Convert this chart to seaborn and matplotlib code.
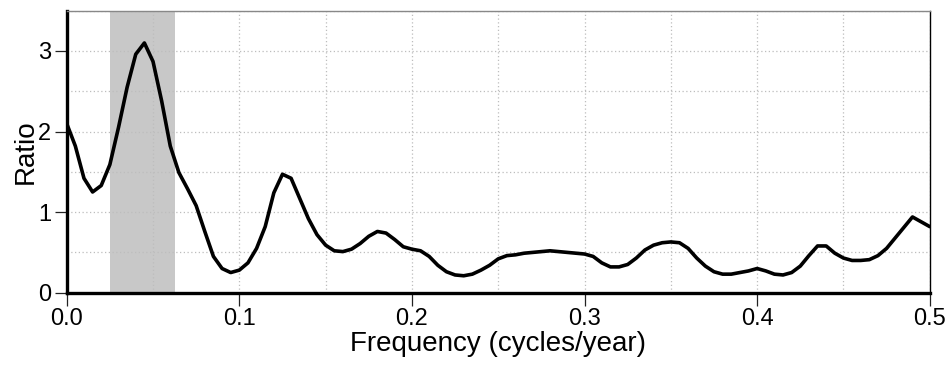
import numpy as np
import pandas as pd
import matplotlib
matplotlib.use("Agg")
import matplotlib.pyplot as plt
import seaborn as sns

# Frequency grid (cycles/year) and spectral ratio values
frequency = np.round(np.arange(101) * 0.005, 3)
ratio = [2.10, 1.82, 1.42, 1.25, 1.33, 1.59, 2.05, 2.55, 2.96, 3.10,
         2.87, 2.38, 1.82, 1.49, 1.29, 1.08, 0.76, 0.45, 0.30, 0.25,
         0.28, 0.37, 0.55, 0.82, 1.24, 1.47, 1.42, 1.17, 0.92, 0.72,
         0.59, 0.52, 0.51, 0.54, 0.61, 0.70, 0.76, 0.74, 0.66, 0.57,
         0.54, 0.52, 0.45, 0.34, 0.26, 0.22, 0.21, 0.23, 0.28, 0.34,
         0.42, 0.46, 0.47, 0.49, 0.50, 0.51, 0.52, 0.51, 0.50, 0.49,
         0.48, 0.45, 0.37, 0.32, 0.32, 0.35, 0.43, 0.53, 0.59, 0.62,
         0.63, 0.62, 0.55, 0.43, 0.33, 0.26, 0.23, 0.23, 0.25, 0.27,
         0.30, 0.27, 0.23, 0.22, 0.25, 0.33, 0.46, 0.58, 0.58, 0.49,
         0.43, 0.40, 0.40, 0.41, 0.46, 0.55, 0.68, 0.81, 0.94, 0.88,
         0.82]
band = [0.025, 0.063]
x_ticks = [0.0, 0.1, 0.2, 0.3, 0.4, 0.5]
x_tick_labels = ["0.0", "0.1", "0.2", "0.3", "0.4", "0.5"]
y_ticks = [0, 1, 2, 3]
y_tick_labels = ["0", "1", "2", "3"]

df = pd.DataFrame({"Frequency": frequency, "Ratio": ratio})

sns.set_theme(style="white")
plt.rcParams["font.family"] = ["Liberation Sans", "DejaVu Sans"]
plt.rcParams["text.color"] = "black"
plt.rcParams["axes.labelcolor"] = "black"
plt.rcParams["xtick.color"] = "black"
plt.rcParams["ytick.color"] = "black"

fig = plt.figure(figsize=(9.53, 3.67), dpi=100)
ax = fig.add_axes([0.070, 0.2025, 0.9056, 0.7683])

ax.axvspan(band[0], band[1], color="#c8c8c8", lw=0, zorder=0)

sns.lineplot(data=df, x="Frequency", y="Ratio", ax=ax, color="black",
             lw=2.6, zorder=3)

ax.set_xlim(0, 0.5)
ax.set_ylim(0, 3.5)
ax.set_xticks(x_ticks)
ax.set_xticklabels(x_tick_labels)
ax.set_yticks(y_ticks)
ax.set_yticklabels(y_tick_labels)
ax.set_xticks(np.arange(0.05, 0.5, 0.1), minor=True)
ax.set_yticks([0.5, 1.5, 2.5, 3.5], minor=True)

ax.grid(True, which="both", color="#bdbdbd", linestyle=(0, (1, 2)), lw=0.9, zorder=1)
ax.set_axisbelow(True)

ax.tick_params(axis="both", which="major", direction="out", length=9,
               width=0.9, color="#222222", labelcolor="black", labelsize=17,
               pad=2, bottom=True, left=True)
ax.tick_params(axis="both", which="minor", length=0)

for side in ["left", "bottom"]:
    ax.spines[side].set_linewidth(2.4)
    ax.spines[side].set_color("black")
ax.spines["right"].set_linewidth(1.0)
ax.spines["right"].set_color("black")
ax.spines["top"].set_linewidth(1.0)
ax.spines["top"].set_color("#888888")

ax.set_xlabel("Frequency (cycles/year)", fontsize=20, labelpad=1, color="black")
ax.set_ylabel("Ratio", fontsize=20, labelpad=0, color="black")

fig.savefig("out.png", dpi=100)
